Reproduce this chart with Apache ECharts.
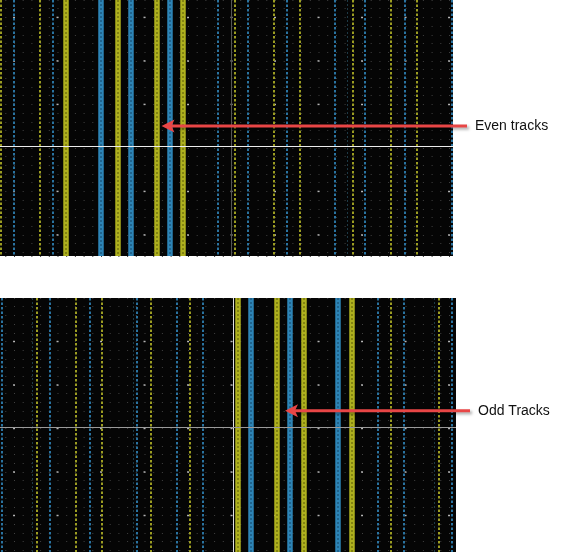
<!DOCTYPE html>
<html>
<head>
<meta charset="utf-8">
<title>Even / Odd tracks</title>
<script src="https://cdn.jsdelivr.net/npm/echarts@6/dist/echarts.min.js"></script>
<style>
html,body{margin:0;padding:0;background:#fff;}
#trackChart{width:574px;height:552px;}
</style>
</head>
<body>
<div id="trackChart"></div>
<script>
// top panel (even tracks), x in px of the board view
var evenX = [1, 14, 40, 53, 66, 100.7, 117.7, 131, 156.7, 170, 182.7, 217.7, 235, 247.7, 274, 286.7, 300, 335, 352.3, 365, 391, 404.3, 417, 451.7];
var evenLayer = ['Y','B','Y','B','Y','B','Y','B','Y','B','Y','B','Y','B','Y','B','Y','B','Y','B','Y','B','Y','B'];
var evenWide = [0,0,0,0,1,1,1,1,1,1,1,0,0,0,0,0,0,0,0,0,0,0,0,0];
var evenFaint = [347];
var evenCut = 231.7;
var evenHLine = 146.3;

// bottom panel (odd tracks)
var oddX = [1.7, 36.7, 50, 76, 89.3, 102, 137, 150.7, 176.7, 190, 203, 237.3, 250.7, 276.7, 290, 303.3, 337.7, 351.7, 377.7, 391, 403.3, 439, 451.7];
var oddLayer = ['B','Y','B','Y','B','Y','B','Y','B','Y','B','Y','B','Y','B','Y','B','Y','B','Y','B','Y','B'];
var oddWide = [0,0,0,0,0,0,0,0,0,0,0,1,1,1,1,1,1,1,0,0,0,0,0];
var oddFaint = [32.3, 133.3, 434.3];
var oddCut = 233.3;
var oddHLine = 129.3;

// bright via dots
var viaX = [14, 57.5, 101, 144.5, 188, 231.5, 275, 318.5, 362, 405.5, 449];
var evenViaY = [17.4, 60.9, 104.4, 191.4, 234.9];
var oddViaY = [43.5, 87, 130.5, 174, 217.5];

var layerColor = {Y:'#9c9d22', B:'#2a73a0'};
var wideColor = {Y:'#aeb01e', B:'#2d84b6'};
var wideInner = {Y:'#75760f', B:'#1c5a80'};

var charts;

function buildLines(xs, layers, wides, faint, cut, hline, hcolor, cutColor){
	var data = [];
	for(var i=0;i<xs.length;i++){
		var L = layers[i];
		if(wides[i]==1){
			data.push({xAxis:xs[i], lineStyle:{color:wideColor[L], width:5.5, type:'solid'}});
			data.push({xAxis:xs[i], lineStyle:{color:wideInner[L], width:1.5, type:[2,2]}});
		}else{
			data.push({xAxis:xs[i], lineStyle:{color:layerColor[L], width:2, type:[2.5,2]}});
		}
	}
	for(var j=0;j<faint.length;j++){
		data.push({xAxis:faint[j], lineStyle:{color:'#1e3a46', width:1, type:[2,2]}});
	}
	data.push({xAxis:cut, lineStyle:{color:cutColor, width:1, type:'solid'}});
	data.push({yAxis:hline, lineStyle:{color:hcolor, width:1, type:'solid'}});
	return data;
}

function buildVias(xs, ys){
	var pts = [];
	for(var i=0;i<xs.length;i++){
		for(var j=0;j<ys.length;j++){
			pts.push([xs[i], ys[j]]);
		}
	}
	return pts;
}

function arrow(tipX, endX, y){
	var shadow = {shadowColor:'rgba(0,0,0,0.35)', shadowBlur:3, shadowOffsetX:2, shadowOffsetY:2};
	return [{
		type:'line', z:100,
		shape:{x1:endX, y1:y, x2:tipX+9, y2:y},
		style:Object.assign({stroke:'#e84646', lineWidth:3}, shadow)
	},{
		type:'polygon', z:100,
		shape:{points:[[tipX,y],[tipX+13,y-6.5],[tipX+10,y],[tipX+13,y+6.5]]},
		style:{fill:'#e84646'}
	}];
}

function showTrackChart(){
	charts = echarts.init(document.getElementById('trackChart'));
	var axisOff = {axisLine:{show:false}, axisTick:{show:false}, axisLabel:{show:false}};
	var dotGrid = {show:true, lineStyle:{color:'#404040', width:1, type:[1,7.7], dashOffset:3.4}};
	var option = {
		animation:false,
		backgroundColor:'#ffffff',
		grid:[
			{left:0, top:0, width:453, height:256, show:true, backgroundColor:'#050505', borderWidth:0},
			{left:0, top:298, width:456, height:254, show:true, backgroundColor:'#050505', borderWidth:0}
		],
		xAxis:[
			Object.assign({type:'value', gridIndex:0, min:0, max:453, splitLine:{show:false}}, axisOff),
			Object.assign({type:'value', gridIndex:1, min:0, max:456, splitLine:{show:false}}, axisOff)
		],
		yAxis:[
			Object.assign({type:'value', gridIndex:0, min:0, max:256, interval:8.7, inverse:true, splitLine:dotGrid}, axisOff),
			Object.assign({type:'value', gridIndex:1, min:0, max:254, interval:8.7, inverse:true, splitLine:dotGrid}, axisOff)
		],
		series:[
			{
				name:'even', type:'scatter', xAxisIndex:0, yAxisIndex:0,
				symbol:'rect', symbolSize:[2,1.5], itemStyle:{color:'#d8d8d8'}, silent:true,
				data:buildVias(viaX, evenViaY),
				markLine:{silent:true, symbol:['none','none'], label:{show:false},
					data:buildLines(evenX, evenLayer, evenWide, evenFaint, evenCut, evenHLine, '#ececec', '#555555')}
			},
			{
				name:'odd', type:'scatter', xAxisIndex:1, yAxisIndex:1,
				symbol:'rect', symbolSize:[2,1.5], itemStyle:{color:'#d8d8d8'}, silent:true,
				data:buildVias(viaX, oddViaY),
				markLine:{silent:true, symbol:['none','none'], label:{show:false},
					data:buildLines(oddX, oddLayer, oddWide, oddFaint, oddCut, oddHLine, '#9a9a9a', '#e0e0e0')}
			}
		],
		graphic:[].concat(
			arrow(161.5, 467, 126),
			arrow(285, 470, 410.7),
			[{
				type:'text', left:475, top:119, z:100,
				style:{text:'Even tracks', fill:'#111111', font:'14px "Liberation Sans", Arial, sans-serif'}
			},{
				type:'text', left:478, top:404, z:100,
				style:{text:'Odd Tracks', fill:'#111111', font:'14px "Liberation Sans", Arial, sans-serif'}
			}]
		)
	};
	charts.setOption(option);
}

showTrackChart();
</script>
</body>
</html>
